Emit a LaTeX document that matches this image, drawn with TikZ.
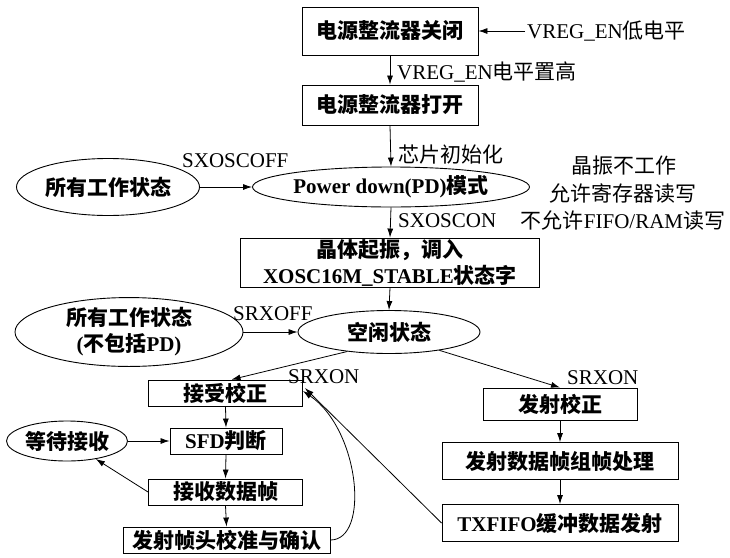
\documentclass[tikz,border=0pt]{standalone}
\usepackage{fontspec}
\setmainfont{Liberation Serif}
\newfontfamily\cjk{Noto Sans CJK SC}
\usetikzlibrary{arrows.meta,shapes.geometric}
\newcommand\zh[1]{{\cjk #1}}
\begin{document}
\begin{tikzpicture}[x=1pt,y=-1pt,
  box/.style={draw, line width=0.9pt, rectangle, inner sep=0pt, align=center,
    font=\fontsize{21}{26}\selectfont\bfseries},
  ell/.style={draw, ellipse, line width=0.9pt, inner sep=0pt, align=center,
    font=\fontsize{21}{26}\selectfont\bfseries},
  lbl/.style={inner sep=0pt, font=\fontsize{21}{24}\selectfont},
  arr/.style={-{Latex[length=9pt,width=6pt]}, line width=0.8pt}]
\useasboundingbox[fill=white] (0,0) rectangle (730,557);

% top chain
\node[box, minimum width=176pt, minimum height=48pt] (b1) at (390,31) {\zh{电源整流器关闭}};
\node[lbl, anchor=west] (vlow) at (527,31) {VREG\_EN\zh{低电平}};
\node[box, minimum width=176pt, minimum height=40pt] (b2) at (390,105) {\zh{电源整流器打开}};
\node[lbl, anchor=west] (vhigh) at (397,72) {VREG\_EN\zh{电平置高}};
\node[ell, minimum width=277pt, minimum height=40pt] (pd) at (391,187) {Power down(PD)\zh{模式}};
\node[lbl, anchor=west] (init) at (398,155) {\zh{芯片初始化}};
\node[ell, minimum width=183pt, minimum height=57pt] (all1) at (108,187) {\zh{所有工作状态}};
\node[lbl, anchor=west] (sxoff) at (182,161) {SXOSCOFF};
\node[lbl] (n1) at (624,166) {\zh{晶振不工作}};
\node[lbl] (n2) at (623,193) {\zh{允许寄存器读写}};
\node[lbl] (n3) at (623,220) {\zh{不允许}FIFO/RAM\zh{读写}};
\node[lbl, anchor=west] (sxon) at (398,221) {SXOSCON};
\node[box, minimum width=299pt, minimum height=49pt] (b3) at (390,262.5)
  {\zh{晶体起振，调入}\\XOSC16M\_STABLE\zh{状态字}};
\node[ell, minimum width=182pt, minimum height=43pt] (idle) at (389,332) {\zh{空闲状态}};
\node[ell, minimum width=228pt, minimum height=52pt] (all2) at (129,332)
  {\zh{所有工作状态}\\(\zh{不包括}PD)};
\node[lbl, anchor=west] (srxoff) at (233,314) {SRXOFF};

% receive side
\node[box, minimum width=154pt, minimum height=26pt] (recv) at (225.5,393) {\zh{接受校正}};
\node[lbl, anchor=west] (srxon1) at (288,377) {SRXON};
\node[box, minimum width=112pt, minimum height=26pt] (sfd) at (226,441) {SFD\zh{判断}};
\node[ell, minimum width=121pt, minimum height=40pt] (wait) at (67,441) {\zh{等待接收}};
\node[box, minimum width=154pt, minimum height=26pt] (rdata) at (225.5,492) {\zh{接收数据帧}};
\node[box, minimum width=207pt, minimum height=26pt] (hdr) at (226.5,540) {\zh{发射帧头校准与确认}};

% transmit side
\node[box, minimum width=154pt, minimum height=32pt] (txcal) at (560,404) {\zh{发射校正}};
\node[lbl, anchor=west] (srxon2) at (567,378) {SRXON};
\node[box, minimum width=236pt, minimum height=37pt] (frame) at (560,461) {\zh{发射数据帧组帧处理}};
\node[box, minimum width=236pt, minimum height=37pt] (txfifo) at (560,523) {TXFIFO\zh{缓冲数据发射}};

% connectors
\draw[arr, shorten <=2pt] (vlow.west) -- (b1.east);
\draw[arr] (b1.south) -- (b2.north);
\draw[arr] (b2.south) -- (pd.north);
\draw[arr] (all1.east) -- (pd.west);
\draw[arr] (pd.south) -- (b3.north);
\draw[arr] (b3.south) -- (idle.north);
\draw[arr] (all2.east) -- (idle.west);
\draw[arr] (idle.-155) -- ([xshift=6pt]recv.north);
\draw[arr] (idle.-20) -- (txcal.north);
\draw[arr] (recv.south) -- (sfd.north);
\draw[arr] (wait.east) -- (sfd.west);
\draw[arr] (sfd.south) -- (rdata.north);
\draw[arr] (rdata.west) -- (wait.-32);
\draw[arr] (rdata.south) -- (hdr.north);
\draw[arr] (hdr.east) .. controls (370,540) and (360,430) .. ([yshift=2pt]recv.east);
\draw[arr] (txfifo.west) -- ([yshift=5pt,xshift=2pt]recv.east);
\draw[arr] (txcal.south) -- (frame.north);
\draw[arr] (frame.south) -- (txfifo.north);
\end{tikzpicture}
\end{document}
